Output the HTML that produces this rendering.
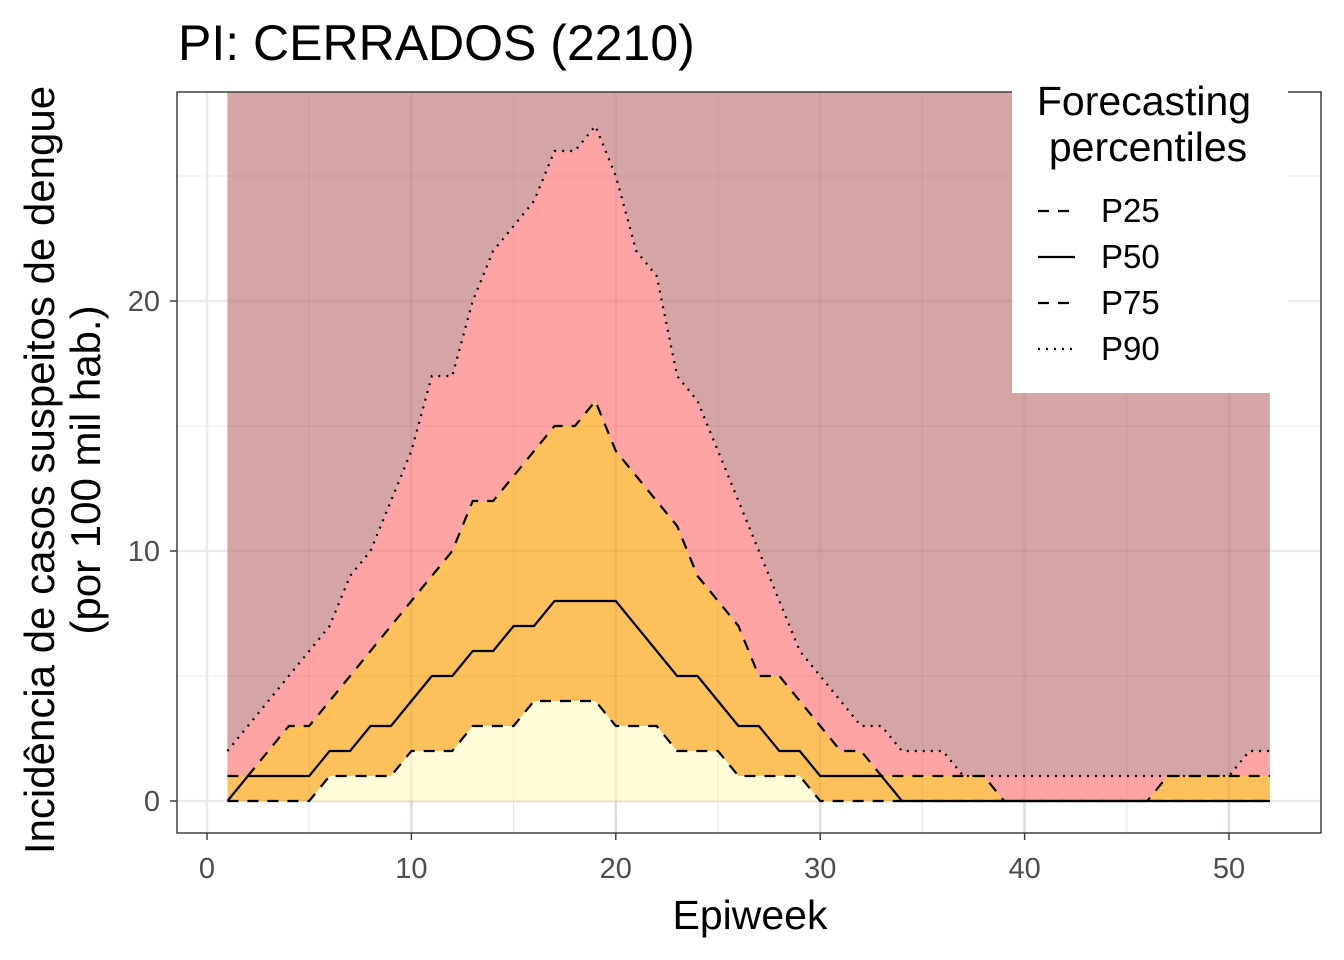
<!DOCTYPE html>
<html><head><meta charset="utf-8"><style>
body{margin:0;background:#fff;}
svg{display:block;font-family:"Liberation Sans",Arial,sans-serif;}
</style></head><body>
<svg id="chart" width="1344" height="960">
<text x="178" y="60" font-size="50" fill="#000">PI: CERRADOS (2210)</text>
<g id="plot"></g>
<text x="750" y="929" font-size="41" text-anchor="middle">Epiweek</text>
<g transform="translate(54,470) rotate(-90)">
<text x="0" y="0" font-size="42" text-anchor="middle">Incidência de casos suspeitos de dengue</text>
<text x="0" y="46" font-size="42" text-anchor="middle">(por 100 mil hab.)</text>
</g>
<g>
<rect x="1012" y="88" width="276" height="305" fill="#fff"/>
<text x="1144" y="115" font-size="41" text-anchor="middle">Forecasting</text>
<text x="1148" y="161" font-size="41" text-anchor="middle">percentiles</text>
<g><line x1="1038" y1="211" x2="1075" y2="211" stroke="#000" stroke-width="2.2" stroke-dasharray="11,9"/><text x="1101" y="222" font-size="33">P25</text></g>
<g><line x1="1038" y1="257" x2="1075" y2="257" stroke="#000" stroke-width="2.2"/><text x="1101" y="268" font-size="33">P50</text></g>
<g><line x1="1038" y1="303" x2="1075" y2="303" stroke="#000" stroke-width="2.2" stroke-dasharray="11,9"/><text x="1101" y="314" font-size="33">P75</text></g>
<g><line x1="1038" y1="349" x2="1075" y2="349" stroke="#000" stroke-width="2.2" stroke-dasharray="2,6"/><text x="1101" y="360" font-size="33">P90</text></g>
</g>
</svg>
<script>
const weeks=[];for(let i=1;i<=52;i++)weeks.push(i);
const p25=[0,0,0,0,0,1,1,1,1,2,2,2,3,3,3,4,4,4,4,3,3,3,2,2,2,1,1,1,1,0,0,0,0,0,0,0,0,0,0,0,0,0,0,0,0,0,0,0,0,0,0,0];
const p50=[0,1,1,1,1,2,2,3,3,4,5,5,6,6,7,7,8,8,8,8,7,6,5,5,4,3,3,2,2,1,1,1,1,0,0,0,0,0,0,0,0,0,0,0,0,0,0,0,0,0,0,0];
const p75=[1,1,2,3,3,4,5,6,7,8,9,10,12,12,13,14,15,15,16,14,13,12,11,9,8,7,5,5,4,3,2,2,1,1,1,1,1,1,0,0,0,0,0,0,0,0,1,1,1,1,1,1];
const p90=[2,3,4,5,6,7,9,10,12,14,17,17,20,22,23,24,26,26,27,25,22,21,17,16,14,12,10,8,6,5,4,3,3,2,2,2,1,1,1,1,1,1,1,1,1,1,1,1,1,1,2,2];
const xTicks=[0,10,20,30,40,50];
const yTicks=[0,10,20];
const X=v=>207+20.44*v, Y=v=>801-25*v;
const NS="http://www.w3.org/2000/svg";
const g=document.getElementById('plot');
function mk(t,a,p){const e=document.createElementNS(NS,t);for(const k in a)e.setAttribute(k,a[k]);(p||g).appendChild(e);return e;}
const L=177,R=1321,T=92,B=833;
mk('rect',{x:L,y:T,width:R-L,height:B-T,fill:'#fff'});
[5,15,25,35,45].forEach(v=>mk('line',{x1:X(v),x2:X(v),y1:T,y2:B,stroke:'#f3f3f3','stroke-width':1.4}));
[5,15,25].forEach(v=>mk('line',{x1:L,x2:R,y1:Y(v),y2:Y(v),stroke:'#f3f3f3','stroke-width':1.4}));
xTicks.forEach(v=>mk('line',{x1:X(v),x2:X(v),y1:T,y2:B,stroke:'#ebebeb','stroke-width':2.6}));
yTicks.forEach(v=>mk('line',{x1:L,x2:R,y1:Y(v),y2:Y(v),stroke:'#ebebeb','stroke-width':2.6}));
function pts(arr){return weeks.map((w,i)=>X(w)+','+Y(arr[i]));}
function band(lo,hi,fill,name){
  const top=hi?pts(hi):[X(52)+','+T,X(1)+','+T].reverse();
  const bot=lo?pts(lo).reverse():[X(52)+','+Y(0),X(1)+','+Y(0)];
  const e=mk('polygon',{points:top.concat(bot).join(' '),fill:fill});
  
  
}
band(null,p25,'#fefdd8','band-below-p25');
band(p25,p75,'#fcc15a','band-p25-p75');
band(p75,p90,'#fea3a4','band-p75-p90');
band(p90,null,'#d5a4a5','band-above-p90');
const gc=mk('g',{});
[5,15,25,35,45].forEach(v=>mk('line',{x1:X(v),x2:X(v),y1:T,y2:B,stroke:'rgba(120,60,60,0.06)','stroke-width':1.4},gc));
[5,15,25].forEach(v=>mk('line',{x1:X(1),x2:X(52),y1:Y(v),y2:Y(v),stroke:'rgba(120,60,60,0.06)','stroke-width':1.4},gc));
xTicks.slice(1).forEach(v=>mk('line',{x1:X(v),x2:X(v),y1:T,y2:B,stroke:'rgba(120,60,60,0.08)','stroke-width':2.6},gc));
yTicks.forEach(v=>mk('line',{x1:X(1),x2:X(52),y1:Y(v),y2:Y(v),stroke:'rgba(120,60,60,0.08)','stroke-width':2.6},gc));
function line(arr,dash,name){
  const e=mk('polyline',{points:pts(arr).join(' '),fill:'none',stroke:'#000','stroke-width':2.2,'stroke-dasharray':dash});
  
  
}
line(p25,'11,9','line-p25');
line(p50,'none','line-p50');
line(p75,'11,9','line-p75');
line(p90,'2,6','line-p90');
mk('rect',{x:L,y:T,width:R-L,height:B-T,fill:'none',stroke:'#333','stroke-width':1.4});
xTicks.forEach(v=>{
  mk('line',{x1:X(v),x2:X(v),y1:B,y2:B+7,stroke:'#333','stroke-width':1.4});
  const t=mk('text',{x:X(v),y:878,'font-size':29,fill:'#4d4d4d','text-anchor':'middle'});t.textContent=v;
  
  
});
yTicks.forEach(v=>{
  mk('line',{x1:L-7,x2:L,y1:Y(v),y2:Y(v),stroke:'#333','stroke-width':1.4});
  const t=mk('text',{x:160,y:Y(v)+10,'font-size':29,fill:'#4d4d4d','text-anchor':'end'});t.textContent=v;
  
  
});
</script>
</body></html>
